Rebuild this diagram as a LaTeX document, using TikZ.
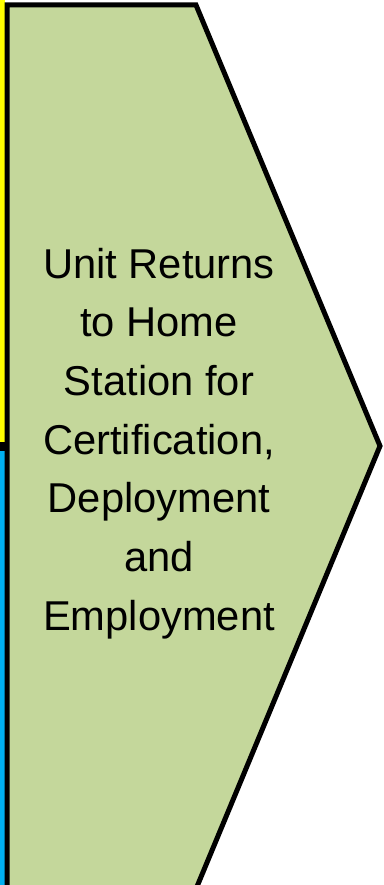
\documentclass[tikz,border=0pt]{standalone}
\usepackage{fontspec}
\setmainfont{Liberation Sans}
\definecolor{chevgreen}{HTML}{C4D79B}
\definecolor{stripyellow}{HTML}{FFFF00}
\definecolor{stripblue}{HTML}{00B0F0}
\begin{document}
\begin{tikzpicture}[x=1pt,y=-1pt]
  \useasboundingbox (0,0) rectangle (383,885);
  \clip (0,0) rectangle (383,885);
  % strips on the left
  \fill[stripyellow] (0,0) rectangle (5,442);
  \fill[black] (0,442) rectangle (7,451);
  \fill[stripblue] (0,451) rectangle (5,885);
  % chevron corners
  \coordinate (tl) at (7,5);
  \coordinate (tr) at (196,5);
  \coordinate (tip) at (380,446);
  \coordinate (br) at (196,889);
  \coordinate (bl) at (7,889);
  % chevron
  \draw[fill=chevgreen,line width=5pt,line join=miter] (tl) -- (tr) -- (tip) -- (br) -- (bl) -- cycle;
  % text
  \node[font=\fontsize{41.7}{58.7}\selectfont,align=center,inner sep=0pt] (label) at (159,443.5)
    {Unit Returns\\to Home\\Station for\\Certification,\\Deployment\\and\\Employment};
\end{tikzpicture}
\end{document}
